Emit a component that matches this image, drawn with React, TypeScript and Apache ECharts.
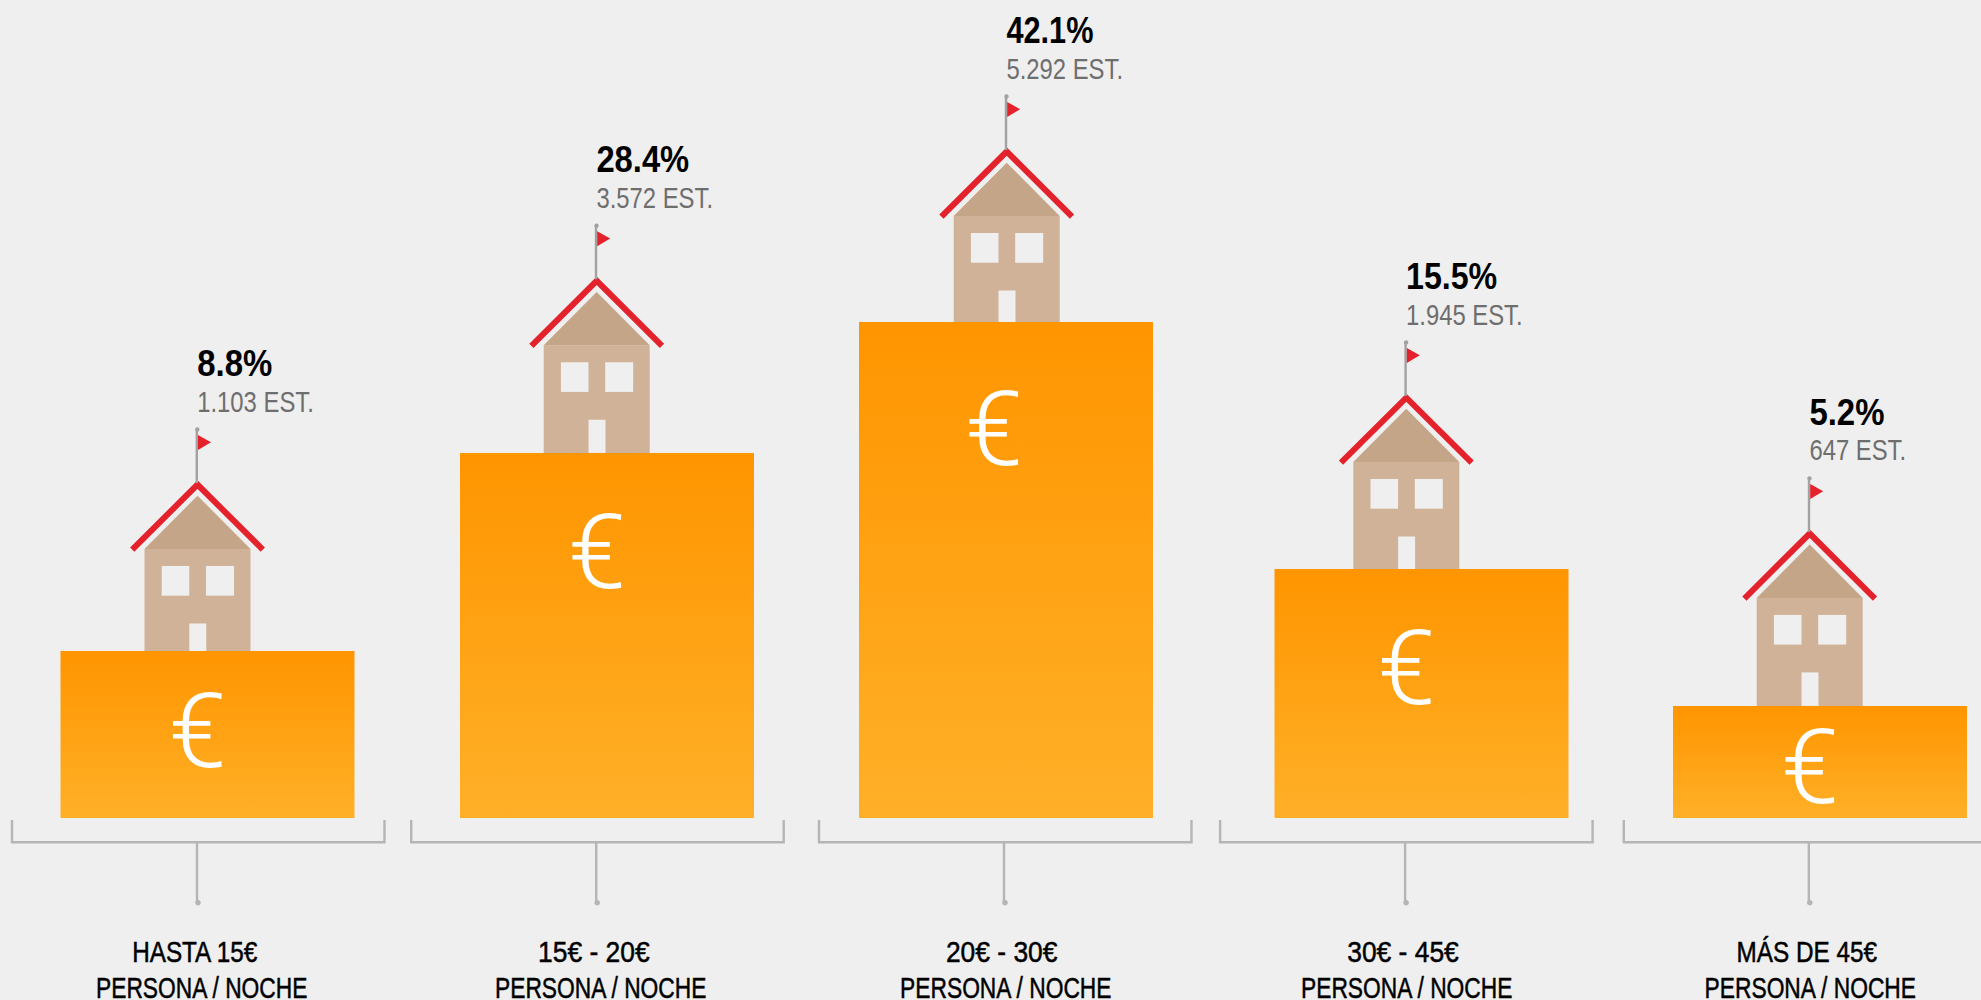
import React, { useEffect, useRef } from "react";
import * as echarts from "echarts";

const categories = ["HASTA 15€", "15€ - 20€", "20€ - 30€", "30€ - 45€", "MÁS DE 45€"];
const subtitle = "PERSONA / NOCHE";
const percentLabels = ["8.8%", "28.4%", "42.1%", "15.5%", "5.2%"];
const studentLabels = ["1.103 EST.", "3.572 EST.", "5.292 EST.", "1.945 EST.", "647 EST."];
// Height of each block, with the tallest block = 100
// (the drawn blocks are not linear in the percentages).
const barLevels = [33.67, 73.6, 100, 50.2, 22.6];

// Layout
const W = 1981, H = 1000;
const BAR_W = 294;
const TOP = 322, BASE = 818;
const barCenters = [207.5, 607, 1006, 1421.5, 1820];
const stems = [197.5, 596.7, 1006.7, 1406.3, 1809.7];
const bracketCenters = [197.5, 596.7, 1004.5, 1405.6, 1809.3];
const houseLift = [102, 107.7, 106, 107, 108];
const euroOffsets = [[-9.8, -3], [-10, -83], [-12, -140.5], [-15, -25], [-10, 5.5]];
const line1Centers = [194.7, 593.8, 1001.7, 1403, 1806.8];
const line2Centers = [201.7, 600.7, 1005.8, 1406.7, 1810.3];
// Horizontal condensing of the text, as no condensed font is installed.
const line1Scale = [0.81, 0.88, 0.88, 0.88, 0.81];
const percentScale = [0.89, 0.885, 0.83, 0.87, 0.89];

const BG = "#efefef", RED = "#e4222b", BODY = "#cfb297", GABLE = "#c4a587", GREY = "#b5b5b5", POLE = "#a2a2a2";
const SANS = '"Liberation Sans", Arial, sans-serif';

function houseItem(i: number) {
  return (params: any, api: any) => {
    const top = api.coord([api.value(0), api.value(1)]);
    const base = api.coord([api.value(0), 0]);
    const cx = stems[i];
    const by = top[1] - houseLift[i];
    const by0 = base[1];
    const bc = bracketCenters[i];
    const fill = (f: string) => ({ fill: f });
    const line = (x1: number, y1: number, x2: number, y2: number, stroke: string, lineWidth: number) => ({
      type: "line", shape: { x1, y1, x2, y2 }, style: { stroke, lineWidth },
    });
    const L = bc - 185.5, R = bc + 187;
    const axisText = (text: string, x: number, y: number, scaleX: number) => ({
      type: "text", x, y, scaleX,
      style: { text, fill: "#000000", stroke: "#000000", lineWidth: 0.5, font: `normal 30px ${SANS}`, textAlign: "center", textVerticalAlign: "middle" },
    });
    return {
      type: "group",
      children: [
        { type: "rect", shape: { x: cx - 53, y: by, width: 106, height: top[1] - by }, style: fill(BODY) },
        { type: "polygon", shape: { points: [[cx - 53, by], [cx, by - 53.3], [cx + 53, by]] }, style: fill(GABLE) },
        { type: "polyline", shape: { points: [[cx - 65.3, by + 0.6], [cx, by - 64.4], [cx + 65.3, by + 0.6]] },
          style: { stroke: RED, lineWidth: 6, fill: "none", lineJoin: "miter" } },
        { type: "rect", shape: { x: cx - 35.8, y: by + 17, width: 27.6, height: 29.7 }, style: fill(BG) },
        { type: "rect", shape: { x: cx + 8.5, y: by + 17, width: 28, height: 29.7 }, style: fill(BG) },
        { type: "rect", shape: { x: cx - 8.2, y: by + 74.5, width: 17, height: top[1] - by - 74.5 }, style: fill(BG) },
        line(cx - 0.7, by - 119.5, cx - 0.7, by - 66, POLE, 2.4),
        { type: "circle", shape: { cx: cx - 0.2, cy: by - 119.5, r: 2.2 }, style: fill(POLE) },
        { type: "polygon", shape: { points: [[cx + 0.5, by - 114], [cx + 13.5, by - 106.7], [cx + 0.5, by - 99]] }, style: fill(RED) },
        { type: "text", x: cx - 0.3, y: by - 186, scaleX: percentScale[i],
          style: { text: percentLabels[i], fill: "#000000", font: `bold 37px ${SANS}`, textAlign: "left", textVerticalAlign: "middle" } },
        { type: "text", x: cx - 0.3, y: by - 148, scaleX: 0.795,
          style: { text: studentLabels[i], fill: "#6e6e6e", font: `normal 30px ${SANS}`, textAlign: "left", textVerticalAlign: "middle" } },
        { type: "polyline", shape: { points: [[L, by0 + 2], [L, by0 + 24.3], [R, by0 + 24.3], [R, by0 + 2]] },
          style: { stroke: GREY, lineWidth: 2.4, fill: "none" } },
        line(bc - 0.5, by0 + 24.3, bc - 0.5, by0 + 84.7, GREY, 2.4),
        { type: "circle", shape: { cx: bc + 0.5, cy: by0 + 84.7, r: 2.8 }, style: fill(GREY) },
        axisText(categories[i], line1Centers[i], by0 + 133.7, line1Scale[i]),
        axisText(subtitle, line2Centers[i], by0 + 170, 0.76),
      ],
    };
  };
}

export default function App() {
  const ref = useRef<HTMLDivElement>(null);
  useEffect(() => {
    document.body.style.margin = "0";
    document.body.style.background = BG;
    const chart = echarts.init(ref.current!, undefined, { renderer: "svg" });
    const idx = categories.map((_, i) => i);
    chart.setOption({
      animation: false,
      backgroundColor: BG,
      grid: idx.map((i) => ({
        left: barCenters[i] - BAR_W / 2, width: BAR_W, top: TOP, height: BASE - TOP,
        containLabel: false, outerBoundsMode: "none",
      })),
      xAxis: idx.map((i) => ({
        type: "category", gridIndex: i, data: [categories[i]],
        axisLine: { show: false }, axisTick: { show: false }, splitLine: { show: false },
        axisLabel: { show: false },
      })),
      yAxis: idx.map((i) => ({
        type: "value", gridIndex: i, min: 0, max: 100, show: false,
      })),
      series: idx.flatMap((i) => [
        {
          type: "custom", xAxisIndex: i, yAxisIndex: i, z: 1, clip: false,
          data: [[0, barLevels[i]]], renderItem: houseItem(i), silent: true,
        },
        {
          type: "bar", xAxisIndex: i, yAxisIndex: i, z: 2, barWidth: BAR_W, silent: true,
          data: [barLevels[i]],
          itemStyle: {
            color: { type: "linear", x: 0, y: 0, x2: 0, y2: 1,
              colorStops: [{ offset: 0, color: "#ff9500" }, { offset: 1, color: "#ffb028" }] },
          },
          label: {
            show: true, position: "inside", offset: euroOffsets[i], formatter: "€",
            color: "#ffffff", fontFamily: "Roboto", fontWeight: 300, fontSize: 104,
          },
        },
      ]),
    });
    return () => chart.dispose();
  }, []);
  return <div ref={ref} style={{ width: W, height: H }} />;
}
